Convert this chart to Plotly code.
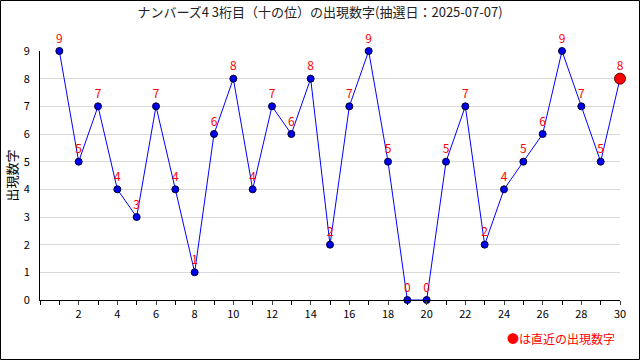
import plotly.graph_objects as go

draws = list(range(1, 31))
digits = [9, 5, 7, 4, 3, 7, 4, 1, 6, 8, 4, 7, 6, 8, 2, 7, 9, 5, 0, 0, 5, 7, 2, 4, 5, 6, 9, 7, 5, 8]
x_tick_vals = list(range(2, 31, 2))
y_tick_vals = list(range(0, 10))
title_text = "ナンバーズ4 3桁目（十の位）の出現数字(抽選日：2025-07-07)"
y_title = "出現数字"
note_text = "●は直近の出現数字"

FONT = "Noto Sans CJK JP, DejaVu Sans, sans-serif"

W, H = 640, 360
L, R, T, B = 40, 20, 51, 60
pw, ph = W - L - R, H - T - B

fig = go.Figure()
fig.add_trace(go.Scatter(
    x=draws, y=digits, mode="lines+markers+text",
    line=dict(color="#0000ff", width=1),
    marker=dict(color="#0000ee", size=7, line=dict(color="#000033", width=1)),
    text=[str(v) for v in digits], textposition="top center",
    textfont=dict(color="#ff0000", size=12, family=FONT),
    cliponaxis=False, showlegend=False, hoverinfo="skip",
))
fig.add_trace(go.Scatter(
    x=[draws[-1]], y=[digits[-1]], mode="markers",
    marker=dict(color="#ff0000", size=11, line=dict(color="#660000", width=1)),
    cliponaxis=False, showlegend=False, hoverinfo="skip",
))

fig.update_layout(
    width=W, height=H,
    margin=dict(l=L, r=R, t=T, b=B, autoexpand=False),
    paper_bgcolor="white", plot_bgcolor="white",
    font=dict(family=FONT, size=11, color="#000000"),
    title=dict(text=title_text, x=0.5, xanchor="center", y=1 - 12 / H, yanchor="middle",
               font=dict(size=13, family=FONT, color="#222222"), automargin=False),
    xaxis=dict(range=[0, 30], tickvals=x_tick_vals, ticks="outside", ticklen=4,
               showgrid=False, showline=True, linecolor="#000000", linewidth=1,
               zeroline=False, tickfont=dict(size=11), automargin=False,
               minor=dict(ticks="outside", ticklen=4, dtick=1, tick0=0, tickcolor="#000000", showgrid=False)),
    yaxis=dict(range=[0, 9], tickvals=y_tick_vals, ticks="", showgrid=True, gridcolor="#d9d9d9",
               showline=True, linecolor="#000000", linewidth=1, zeroline=False,
               tickfont=dict(size=11), ticklabelstandoff=7, automargin=False),
    shapes=[dict(type="rect", xref="paper", yref="paper",
                 x0=-L / pw + 0.5 / pw, x1=1 + R / pw - 0.5 / pw,
                 y0=-B / ph + 0.5 / ph, y1=1 + T / ph - 0.5 / ph,
                 line=dict(color="#000000", width=1))],
    annotations=[
        dict(text=note_text, xref="paper", yref="paper",
             x=1 + (617 - (W - R)) / pw, y=-(338 - (H - B)) / ph,
             xanchor="right", yanchor="middle", showarrow=False,
             font=dict(color="#ff0000", size=12, family=FONT)),
        dict(text=y_title, xref="paper", yref="paper",
             x=-(L - 11) / pw, y=0.5, textangle=-90,
             xanchor="center", yanchor="middle", showarrow=False,
             font=dict(color="#000000", size=13, family=FONT)),
    ],
)

fig.write_html("out.html", config={"displayModeBar": False},
               post_script="document.body.style.margin='0';document.body.style.padding='0';")
